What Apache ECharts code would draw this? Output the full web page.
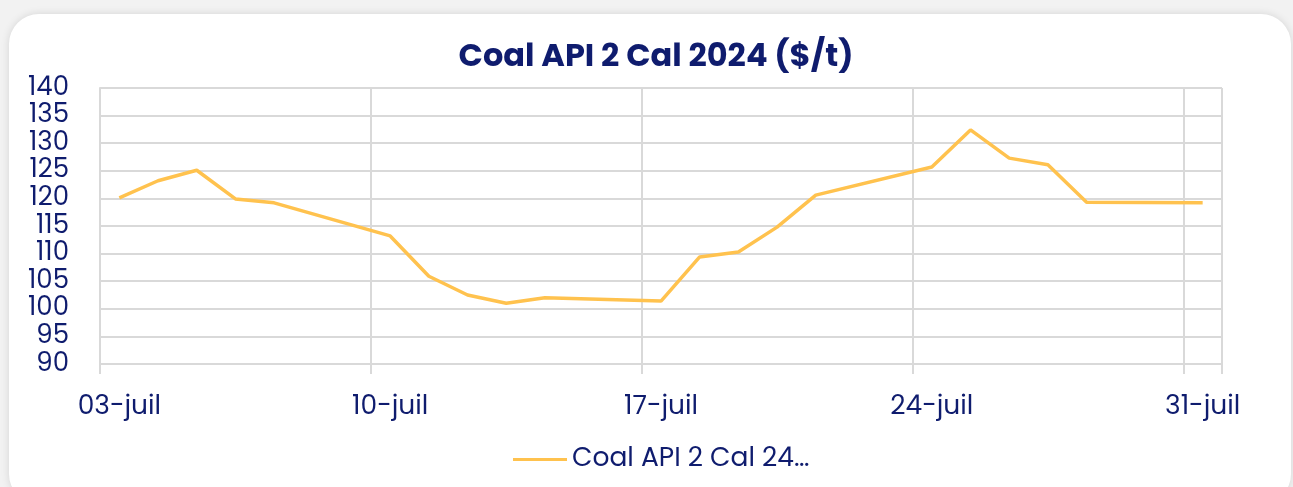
<!DOCTYPE html>
<html>
<head>
<meta charset="utf-8">
<script src="https://cdn.jsdelivr.net/npm/echarts@6/dist/echarts.min.js"></script>
<style>
  html, body { margin:0; padding:0; width:1293px; height:487px; background:#f2f2f2; overflow:hidden; }
  #card { position:absolute; left:9px; top:14px; width:1282px; height:490px; background:#fff; border-radius:30px; box-shadow:0 0 8px rgba(0,0,0,0.12); }
  #main { position:absolute; left:0; top:0; width:1293px; height:487px; }
</style>
</head>
<body>
<div id="card"></div>
<div id="main"></div>
<script>
const categories = ['03-juil','04-juil','05-juil','06-juil','07-juil','08-juil','09-juil','10-juil','11-juil','12-juil','13-juil','14-juil','15-juil','16-juil','17-juil','18-juil','19-juil','20-juil','21-juil','22-juil','23-juil','24-juil','25-juil','26-juil','27-juil','28-juil','29-juil','30-juil','31-juil'];
const coalValues = [120.1,123.2,125.1,119.9,119.2,null,null,113.2,105.9,102.5,101.0,102.0,null,null,101.4,109.4,110.3,114.8,120.6,null,null,125.7,132.4,127.3,126.1,119.3,null,null,119.2];
const seriesName = 'Coal API 2 Cal 24…';
const titleText = 'Coal API 2 Cal 2024 ($/t)';

const navy = '#0f1c6e';
const font = 'Poppins, "Noto Sans", sans-serif';
const chart = echarts.init(document.getElementById('main'));
chart.setOption({
  animation: false,
  title: { text: titleText, left: 651, textAlign: 'center', top: 37, textStyle: { color: navy, fontSize: 32, fontWeight: 'bold', fontFamily: font } },
  grid: { left: 100, right: 71, top: 88, bottom: 123, containLabel: false },
  legend: { bottom: 9, left: 508, icon: 'rect', itemWidth: 54, itemHeight: 3, itemGap: 5, textStyle: { color: navy, fontSize: 26.5, fontFamily: font }, data: [seriesName] },
  xAxis: {
    type: 'category', data: categories, boundaryGap: true,
    axisLine: { lineStyle: { color: '#d9d9d9', width: 2 } },
    axisTick: { show: true, interval: 6, length: 10, lineStyle: { color: '#d9d9d9', width: 2 } },
    splitLine: { show: true, interval: 6, lineStyle: { color: '#d9d9d9', width: 2 } },
    axisLabel: { interval: 6, color: navy, fontSize: 26.5, fontFamily: font, margin: 30 }
  },
  yAxis: {
    type: 'value', min: 90, max: 140, interval: 5,
    axisLine: { show: true, lineStyle: { color: '#d9d9d9', width: 2 } },
    axisTick: { show: false },
    splitLine: { show: true, lineStyle: { color: '#d9d9d9', width: 2 } },
    axisLabel: { color: navy, fontSize: 26, fontFamily: font, margin: 31 }
  },
  series: [{
    name: seriesName, type: 'line', data: coalValues, connectNulls: true,
    showSymbol: false, symbol: 'none',
    lineStyle: { color: '#ffc24e', width: 3.5 }, itemStyle: { color: '#ffc24e' }
  }]
});
</script>
</body>
</html>
